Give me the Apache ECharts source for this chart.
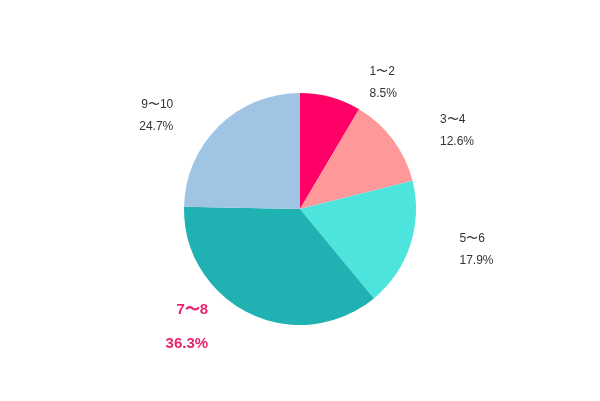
<!DOCTYPE html><html><head><meta charset="utf-8"><script src="https://cdn.jsdelivr.net/npm/echarts@6/dist/echarts.min.js"></script><style>body{margin:0;background:#fff}#c{width:600px;height:401px}</style></head><body><div id="c"></div><script>
const categories=['1〜2','3〜4','5〜6','7〜8','9〜10'];
const values=[8.5,12.6,17.9,36.3,24.7];
const colors=['#ff0066','#ff9999','#4de4de','#20b2b2','#a0c4e4'];
const chart=echarts.init(document.getElementById('c'));
chart.setOption({animation:false,series:[{type:'pie',center:[300,209],radius:116,startAngle:90,clockwise:true,
labelLine:{show:false},
label:{position:'outside',distance:2,align:'center',formatter:p=>p.name+'\n'+p.value+'%',color:'#333',fontSize:12,lineHeight:22,fontFamily:'Liberation Sans'},
data:categories.map((c,i)=>{const d={name:c,value:values[i],itemStyle:{color:colors[i]}};
if(i===3)d.label={color:'#e8246e',fontSize:15,fontWeight:'bold',lineHeight:34,distance:8};return d;})}]});
</script></body></html>
